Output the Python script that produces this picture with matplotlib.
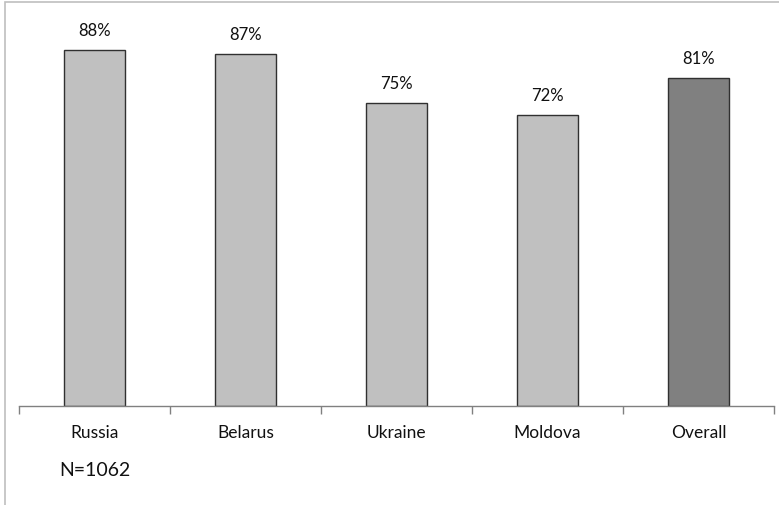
import matplotlib
matplotlib.use("Agg")
import matplotlib.pyplot as plt
from matplotlib.patches import Rectangle

plt.rcParams["font.family"] = ["Lato", "DejaVu Sans"]

categories = ["Russia", "Belarus", "Ukraine", "Moldova", "Overall"]
values = [88, 87, 75, 72, 81]
colors = ["#c0c0c0", "#c0c0c0", "#c0c0c0", "#c0c0c0", "#808080"]
note = "N=1062"

W, H = 779, 505
fig = plt.figure(figsize=(W / 100, H / 100), dpi=100)

# light gray frame (left and top edges visible)
fig.patches.append(Rectangle((5 / W, -0.1), 1.2, (H - 2) / H + 0.1,
                             transform=fig.transFigure, fill=False,
                             edgecolor="#bfbfbf", linewidth=1.2))

ax = fig.add_axes([19 / W, 99 / H, 755 / W, 404.5 / H])
x = list(range(len(categories)))
ax.bar(x, values, width=0.4, color=colors, edgecolor="#303030", linewidth=1.0, zorder=2)

for xi, v in zip(x, values):
    ax.annotate(f"{v}%", (xi, v), xytext=(0, 8), textcoords="offset points",
                ha="center", va="bottom", fontsize=12, color="#111111")

ax.set_xlim(-0.5, len(categories) - 0.5)
ax.set_ylim(0, 100)
ax.set_yticks([])
ax.set_xticks(x)
ax.set_xticklabels(categories, fontsize=12.5, color="#111111")
ax.set_xticks([i - 0.5 for i in range(len(categories) + 1)], minor=True)
ax.tick_params(axis="x", which="major", length=0, pad=14)
ax.tick_params(axis="x", which="minor", length=6, width=1, color="#808080", direction="out")
for side in ["top", "right", "left"]:
    ax.spines[side].set_visible(False)
ax.spines["bottom"].set_color("#808080")
ax.spines["bottom"].set_linewidth(1)

fig.text(59 / W, 1 - 471 / H, note, fontsize=14, color="#111111", ha="left", va="center")

fig.savefig("out.png", dpi=100)
